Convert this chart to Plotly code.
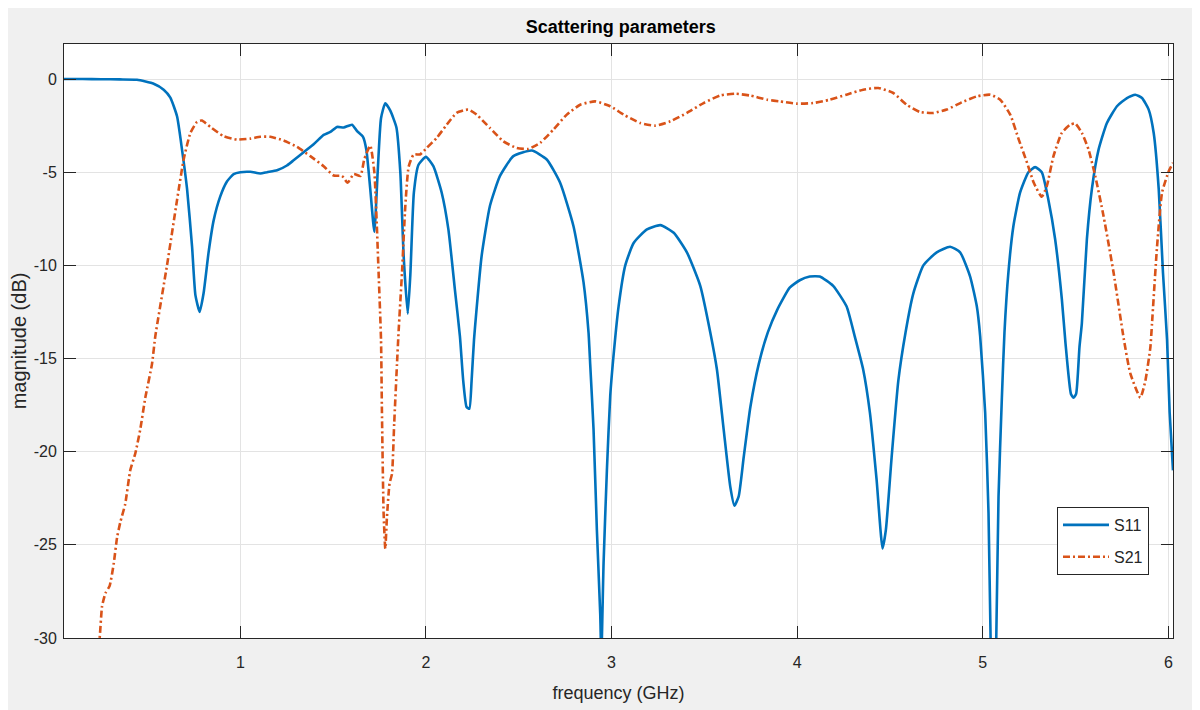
import plotly.graph_objects as go

# ---- data ----
s11_freq = [0.05, 0.15, 0.25, 0.35, 0.443, 0.533, 0.587, 0.623, 0.659, 0.686, 0.713, 0.740, 0.758, 0.781,
            0.802, 0.829, 0.856, 0.892, 0.928, 0.964, 1.0, 1.054, 1.108, 1.144, 1.198, 1.251, 1.287, 1.341,
            1.395, 1.449, 1.485, 1.521, 1.557, 1.602, 1.629, 1.661, 1.679, 1.700, 1.722, 1.740, 1.758,
            1.781, 1.808, 1.841, 1.862, 1.880, 1.902, 1.916, 1.935, 1.960, 2.0, 2.040, 2.085, 2.121,
            2.156, 2.183, 2.201, 2.219, 2.234, 2.246, 2.259, 2.300, 2.345, 2.399, 2.471, 2.570,
            2.651, 2.723, 2.795, 2.849, 2.876, 2.885, 2.903, 2.921, 2.939, 2.945, 2.957, 2.975, 2.993,
            3.014, 3.038, 3.074, 3.119, 3.191, 3.263, 3.335, 3.406, 3.478, 3.532, 3.568, 3.604, 3.640,
            3.662, 3.685, 3.712, 3.748, 3.793, 3.842, 3.892, 3.960, 4.014, 4.068, 4.122, 4.194, 4.266,
            4.310, 4.356, 4.392, 4.428, 4.460, 4.478, 4.509, 4.545, 4.584, 4.626, 4.680, 4.752, 4.824,
            4.878, 4.932, 4.968, 4.986, 5.013, 5.031, 5.043, 5.057, 5.072, 5.085, 5.103, 5.117, 5.138,
            5.165, 5.201, 5.246, 5.282, 5.318, 5.354, 5.390, 5.426, 5.446, 5.475, 5.489, 5.503, 5.521,
            5.534, 5.561, 5.588, 5.624, 5.669, 5.723, 5.777, 5.822, 5.858, 5.894, 5.921, 5.948, 5.971,
            5.993, 6.007, 6.025]
s11_db = [0.0, 0.0, -0.01, -0.02, -0.04, -0.25, -0.57, -1.0, -2.0, -3.8, -5.9, -9.0, -11.6, -12.5,
          -11.5, -9.3, -7.6, -6.3, -5.5, -5.1, -5.0, -4.98, -5.07, -5.0, -4.9, -4.64, -4.36, -3.93,
          -3.5, -3.0, -2.84, -2.57, -2.6, -2.45, -2.8, -3.1, -3.8, -5.9, -8.2, -5.0, -2.1,
          -1.3, -1.7, -2.6, -5.0, -9.5, -12.6, -10.5, -6.1, -4.6, -4.18, -4.68, -6.1, -8.07,
          -11.3, -13.8, -16.2, -17.6, -17.7, -16.2, -14.0, -9.5, -6.8, -5.2, -4.14, -3.84,
          -4.32, -5.57, -7.9, -10.9, -13.6, -15.3, -18.8, -24.2, -28.7, -31.0, -26.0, -21.0, -17.0,
          -14.5, -12.2, -10.0, -8.8, -8.07, -7.84, -8.25, -9.3, -11.1, -13.6, -15.6, -18.8, -21.9,
          -22.9, -22.4, -20.3, -17.6, -15.3, -13.6, -12.4, -11.2, -10.8, -10.6, -10.6, -11.1, -12.2,
          -13.8, -15.6, -17.9, -21.5, -25.2, -24.2, -20.3, -16.2, -13.6, -11.5, -10.0, -9.3, -9.0,
          -9.3, -10.6, -12.2, -13.8, -17.9, -23.3, -30.5, -36.0, -30.5, -22.4, -17.1, -13.6, -10.4,
          -7.9, -6.1, -5.0, -4.73, -5.0, -6.5, -8.6, -11.8, -14.2, -16.9, -17.1, -16.9, -14.4,
          -13.1, -8.6, -5.9, -3.79, -2.36, -1.46, -1.02, -0.84, -1.02, -1.64, -2.9, -5.9, -10.4,
          -14.0, -17.9, -21.0]

s21_freq = [0.05, 0.22, 0.242, 0.255, 0.273, 0.296, 0.318, 0.336, 0.353, 0.380, 0.407, 0.434, 0.461,
            0.488, 0.524, 0.542, 0.605, 0.659, 0.695, 0.731, 0.767, 0.793, 0.838, 0.910, 0.982, 1.054,
            1.108, 1.162, 1.233, 1.305, 1.377, 1.449, 1.503, 1.548, 1.578, 1.611, 1.647, 1.668, 1.700,
            1.722, 1.745, 1.758, 1.763, 1.772, 1.781, 1.790, 1.804, 1.817, 1.829, 1.844, 1.853, 1.871,
            1.889, 1.907, 1.934, 1.968, 2.004, 2.058, 2.112, 2.165, 2.228, 2.273, 2.345, 2.417, 2.489,
            2.552, 2.615, 2.687, 2.759, 2.831, 2.912, 2.993, 3.065, 3.155, 3.236, 3.317, 3.406, 3.496,
            3.586, 3.667, 3.748, 3.838, 3.906, 3.996, 4.086, 4.176, 4.266, 4.356, 4.437, 4.518, 4.590,
            4.662, 4.734, 4.806, 4.887, 4.968, 5.040, 5.094, 5.148, 5.194, 5.239, 5.275, 5.318, 5.345,
            5.381, 5.426, 5.471, 5.498, 5.534, 5.570, 5.606, 5.651, 5.705, 5.759, 5.795, 5.849, 5.876,
            5.903, 5.912, 5.939, 5.966, 6.002, 6.025]
s21_db = [-40.0, -31.5, -30.0, -28.3, -27.6, -27.2, -26.0, -24.6, -23.8, -22.8, -21.0, -20.1, -18.8,
          -17.1, -15.3, -13.8, -10.0, -6.5, -4.3, -2.9, -2.3, -2.23, -2.57, -3.07, -3.25, -3.2,
          -3.1, -3.1, -3.3, -3.64, -4.14, -4.68, -5.18, -5.2, -5.57, -5.1, -5.2, -4.3, -3.57,
          -5.0, -10.4, -14.0, -17.9, -23.3, -25.2, -23.5, -21.7, -21.2, -18.5, -15.3, -13.5, -10.4,
          -6.8, -4.7, -4.05, -4.05, -3.7, -3.16, -2.45, -1.82, -1.64, -1.91, -2.63, -3.34, -3.7,
          -3.75, -3.43, -2.71, -1.91, -1.38, -1.2, -1.46, -1.91, -2.36, -2.5, -2.27, -1.82, -1.29,
          -0.88, -0.79, -0.89, -1.11, -1.2, -1.32, -1.29, -1.11, -0.84, -0.57, -0.48, -0.75, -1.38,
          -1.77, -1.82, -1.64, -1.25, -0.93, -0.84, -1.11, -1.91, -3.25, -4.5, -5.57, -6.32, -5.75,
          -4.14, -2.89, -2.45, -2.39, -2.89, -3.79, -5.2, -7.36, -10.4, -13.9, -15.8, -17.1, -16.2,
          -14.4, -13.1, -9.0, -6.1, -4.95, -4.5]

x_ticks = [1, 2, 3, 4, 5, 6]
y_ticks = [0, -5, -10, -15, -20, -25, -30]
series_names = ["S11", "S21"]

# ---- figure ----
BLUE = "#0072BD"
ORANGE = "#D95319"
AXC = "#262626"
FONT = "Liberation Sans, Arial, sans-serif"

fig = go.Figure()
fig.add_trace(go.Scatter(x=s11_freq, y=s11_db, mode="lines", name=series_names[0], legendgroup="a",
                         line=dict(color=BLUE, width=2.6, shape="spline", smoothing=0.5)))
fig.add_trace(go.Scatter(x=s21_freq, y=s21_db, mode="lines", name=series_names[1], legendgroup="b",
                         line=dict(color=ORANGE, width=2.6, shape="spline", smoothing=0.5,
                                   dash="7px,3px,2px,3px")))

axis_common = dict(
    showgrid=True, gridcolor="#e3e3e3", gridwidth=1,
    showline=True, linecolor=AXC, linewidth=1, mirror="allticks",
    ticks="inside", ticklen=12, tickcolor=AXC, tickwidth=1,
    zeroline=False, automargin=False,
    tickfont=dict(family=FONT, size=16, color=AXC),
)

fig.update_xaxes(range=[0.05, 6.025], tickvals=x_ticks, ticktext=[str(v) for v in x_ticks],
                 ticklabelstandoff=10,
                 title=dict(text="frequency (GHz)", font=dict(family=FONT, size=18, color=AXC), standoff=16),
                 **axis_common)
fig.update_yaxes(range=[-30, 1.88], tickvals=y_ticks, ticktext=[str(v) for v in y_ticks],
                 ticklabelstandoff=3,
                 title=dict(text="magnitude (dB)", font=dict(family=FONT, size=20, color=AXC), standoff=8),
                 **axis_common)

fig.update_layout(
    width=1192, height=702,
    margin=dict(l=56, r=27, t=36, b=72, autoexpand=False),
    paper_bgcolor="#f0f0f0",
    plot_bgcolor="#ffffff",
    title=dict(text="<b>Scattering parameters</b>", x=0.514, xanchor="center", y=0.973, yanchor="middle",
               font=dict(family=FONT, size=18, color="#000000")),
    legend=dict(x=0.8954, y=0.2205, xanchor="left", yanchor="top",
                bgcolor="#ffffff", bordercolor="#262626", borderwidth=1, itemwidth=46,
                font=dict(family=FONT, size=16, color=AXC), tracegroupgap=8),
    showlegend=True,
)

fig.write_html("out.html")
